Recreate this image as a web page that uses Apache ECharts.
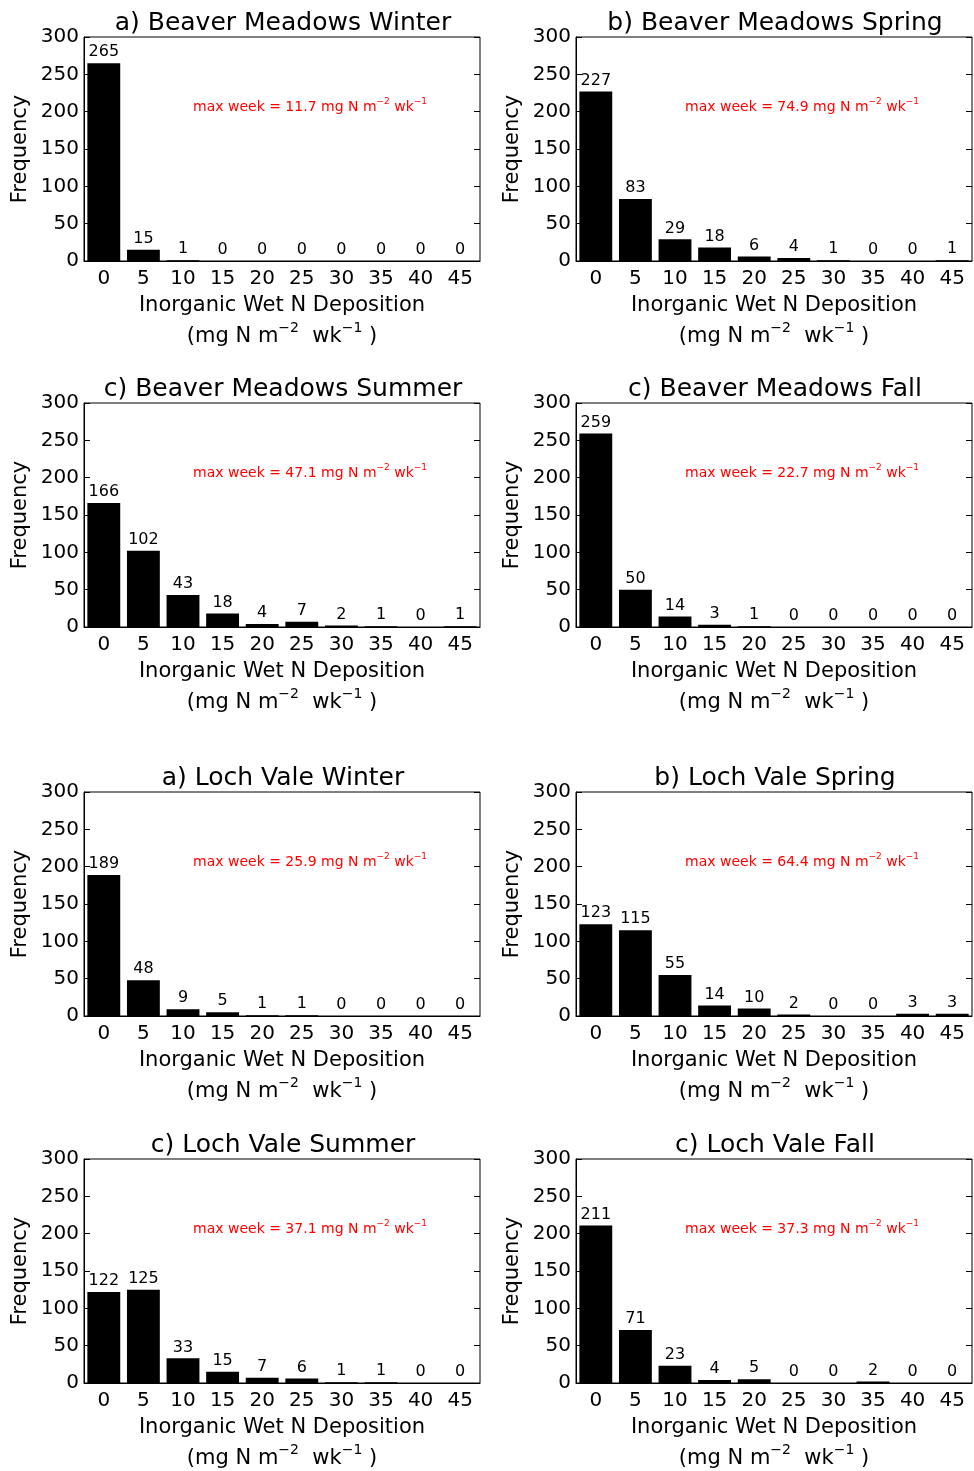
<!DOCTYPE html>
<html>
<head>
<meta charset="utf-8">
<script src="https://cdn.jsdelivr.net/npm/echarts@6/dist/echarts.min.js"></script>
<style>
html,body{margin:0;padding:0;background:#fff;}
#chart{width:974px;height:1471px;}
</style>
</head>
<body>
<div id="chart"></div>
<script>
// ---- data ----
const categories = ['0','5','10','15','20','25','30','35','40','45'];
const yTicks = [0, 50, 100, 150, 200, 250, 300];

const bmWinter = [265, 15, 1, 0, 0, 0, 0, 0, 0, 0];
const bmSpring = [227, 83, 29, 18, 6, 4, 1, 0, 0, 1];
const bmSummer = [166, 102, 43, 18, 4, 7, 2, 1, 0, 1];
const bmFall   = [259, 50, 14, 3, 1, 0, 0, 0, 0, 0];
const lvWinter = [189, 48, 9, 5, 1, 1, 0, 0, 0, 0];
const lvSpring = [123, 115, 55, 14, 10, 2, 0, 0, 3, 3];
const lvSummer = [122, 125, 33, 15, 7, 6, 1, 1, 0, 0];
const lvFall   = [211, 71, 23, 4, 5, 0, 0, 2, 0, 0];

const panelTitles = [
  'a) Beaver Meadows Winter', 'b) Beaver Meadows Spring',
  'c) Beaver Meadows Summer', 'c) Beaver Meadows Fall',
  'a) Loch Vale Winter', 'b) Loch Vale Spring',
  'c) Loch Vale Summer', 'c) Loch Vale Fall'
];
const maxWeek = ['11.7', '74.9', '47.1', '22.7', '25.9', '64.4', '37.1', '37.3'];
const seriesData = [bmWinter, bmSpring, bmSummer, bmFall, lvWinter, lvSpring, lvSummer, lvFall];

// ---- layout ----
const FONT = 'DejaVu Sans';
const colLeft = [84, 576];
const rowTop = [37, 403, 792, 1159];
const W = 396, H = 224;

const grid = [], xAxis = [], yAxis = [], series = [], title = [];
seriesData.forEach((vals, i) => {
  const r = Math.floor(i / 2), c = i % 2;
  const left = colLeft[c], top = rowTop[r];
  grid.push({left: left, top: top, width: W, height: H, show: true,
    borderColor: '#000', borderWidth: 1, backgroundColor: 'transparent'});
  xAxis.push({
    type: 'category', gridIndex: i, data: categories,
    axisLine: {show: true, lineStyle: {color: '#000', width: 1}},
    axisTick: {show: false},
    axisLabel: {color: '#000', fontSize: 20, fontFamily: FONT, margin: 8, interval: 0},
    name: '{n|Inorganic Wet N Deposition}\n{n|(mg N m}{s|\u22122}{n|  wk}{s|\u22121}{n| )}',
    nameLocation: 'middle', nameGap: 29,
    nameTextStyle: {
      color: '#000', fontFamily: FONT,
      rich: {
        n: {fontSize: 21, fontFamily: FONT, color: '#000', lineHeight: 31, verticalAlign: 'middle'},
        s: {fontSize: 14, fontFamily: FONT, color: '#000', lineHeight: 14, verticalAlign: 'top'}
      }
    }
  });
  yAxis.push({
    type: 'value', gridIndex: i, min: 0, max: 300, interval: 50, position: 'left',
    axisLine: {show: true, lineStyle: {color: '#000'}},
    axisTick: {show: true, inside: true, length: 6, lineStyle: {color: '#000'}},
    axisLabel: {color: '#000', fontSize: 20, fontFamily: FONT, margin: 5},
    splitLine: {show: false},
    name: 'Frequency', nameLocation: 'middle', nameGap: 53,
    nameTextStyle: {color: '#000', fontSize: 21, fontFamily: FONT}
  });
  yAxis.push({
    type: 'value', gridIndex: i, min: 0, max: 300, interval: 50, position: 'right',
    axisLine: {show: false},
    axisTick: {show: true, inside: true, length: 6, lineStyle: {color: '#000'}},
    axisLabel: {show: false},
    splitLine: {show: false}
  });
  series.push({
    type: 'bar', xAxisIndex: i, yAxisIndex: 2 * i, data: vals,
    barCategoryGap: '17%',
    itemStyle: {color: '#000'},
    label: {show: true, position: 'top', distance: 3, color: '#000', fontSize: 16, fontFamily: FONT},
    silent: true, animation: false
  });
  title.push({
    text: panelTitles[i], left: left + W / 2 - 4, top: top - 31, textAlign: 'center',
    textStyle: {fontSize: 25, fontWeight: 'normal', color: '#000', fontFamily: FONT}
  });
  title.push({
    text: '{a|max week = ' + maxWeek[i] + ' mg N m}{s|\u22122}{a| wk}{s|\u22121}',
    left: left + 104, top: top + 55,
    textStyle: {
      fontFamily: FONT, color: '#f00', fontWeight: 'normal',
      rich: {
        a: {fontSize: 14, fontFamily: FONT, fontWeight: 'normal', color: '#f00', lineHeight: 20, verticalAlign: 'middle'},
        s: {fontSize: 9, fontFamily: FONT, fontWeight: 'normal', color: '#f00', lineHeight: 9, verticalAlign: 'top'}
      }
    }
  });
});

const chart = echarts.init(document.getElementById('chart'), null, {renderer: 'canvas'});
chart.setOption({
  animation: false,
  backgroundColor: '#fff',
  title: title, grid: grid, xAxis: xAxis, yAxis: yAxis, series: series
});
</script>
</body>
</html>
